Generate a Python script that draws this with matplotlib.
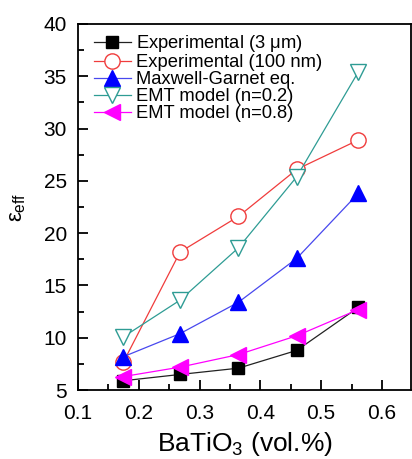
import matplotlib
matplotlib.use("Agg")
import matplotlib.pyplot as plt
from matplotlib.ticker import MultipleLocator

plt.rcParams['font.family'] = ['Liberation Sans', 'DejaVu Sans']
plt.rcParams['mathtext.fontset'] = 'custom'
plt.rcParams['mathtext.rm'] = 'Liberation Sans'
plt.rcParams['mathtext.it'] = 'Liberation Sans'

# =========================
# DADOS
# =========================
x_vals = [0.175, 0.268, 0.364, 0.46, 0.561]

exp_3um = [5.9, 6.5, 7.1, 8.8, 12.9]
exp_100nm = [7.7, 18.2, 21.6, 26.1, 28.9]
maxwell = [8.2, 10.4, 13.4, 17.6, 23.8]
emt_02 = [10.1, 13.6, 18.6, 25.4, 35.4]
emt_08 = [6.3, 7.2, 8.4, 10.2, 12.7]

labels = ["Experimental (3 $\\mu$m)", "Experimental (100 nm)",
          "Maxwell-Garnet eq.", "EMT model (n=0.2)", "EMT model (n=0.8)"]

# =========================
# FIGURA
# =========================
fig = plt.figure(figsize=(4.12, 4.59), dpi=100)
ax = fig.add_axes([0.189, 0.150, 0.809, 0.798])

ax.plot(x_vals, exp_3um, '-', color='#222222', lw=0.9, marker='s', ms=9,
        mfc='black', mec='black', label=labels[0])
ax.plot(x_vals, exp_100nm, '-', color='#f03c3c', lw=0.9, marker='o', ms=11,
        mfc='white', mec='#f03c3c', label=labels[1])
ax.plot(x_vals, maxwell, '-', color='#4848ee', lw=0.9, marker='^', ms=11,
        mfc='#0000ff', mec='#0000ff', label=labels[2])
ax.plot(x_vals, emt_02, '-', color='#2e9c94', lw=0.9, marker='v', ms=11,
        mfc='white', mec='#2e9c94', label=labels[3])
ax.plot(x_vals, emt_08, '-', color='#ff00ff', lw=0.9, marker='<', ms=11,
        mfc='#ff00ff', mec='#ff00ff', label=labels[4])

ax.set_xlim(0.1, 0.648)
ax.set_ylim(5, 40)
ax.xaxis.set_major_locator(MultipleLocator(0.1))
ax.xaxis.set_minor_locator(MultipleLocator(0.05))
ax.yaxis.set_major_locator(MultipleLocator(5))
ax.yaxis.set_minor_locator(MultipleLocator(2.5))
ax.tick_params(which='both', direction='in', labelsize=15, width=1.3)
ax.tick_params(which='major', length=7)
ax.tick_params(which='minor', length=4)
ax.tick_params(axis='x', pad=10)
ax.tick_params(axis='y', pad=8)
for s in ax.spines.values():
    s.set_linewidth(1.3)

ax.set_xlabel("BaTiO$_3$ (vol.%)", fontsize=19)
ax.set_ylabel("$\\epsilon_{\\rm eff}$", fontsize=16)
ax.xaxis.set_label_coords(0.5, -0.11)
ax.yaxis.set_label_coords(-0.15, 0.5)

ax.legend(loc='upper left', frameon=False, fontsize=13.2, numpoints=1,
          handlelength=2.0, handletextpad=0.3, labelspacing=0.0,
          borderpad=0.0, borderaxespad=0.0,
          bbox_to_anchor=(0.048, 0.975))

fig.savefig("out.png", dpi=100)
